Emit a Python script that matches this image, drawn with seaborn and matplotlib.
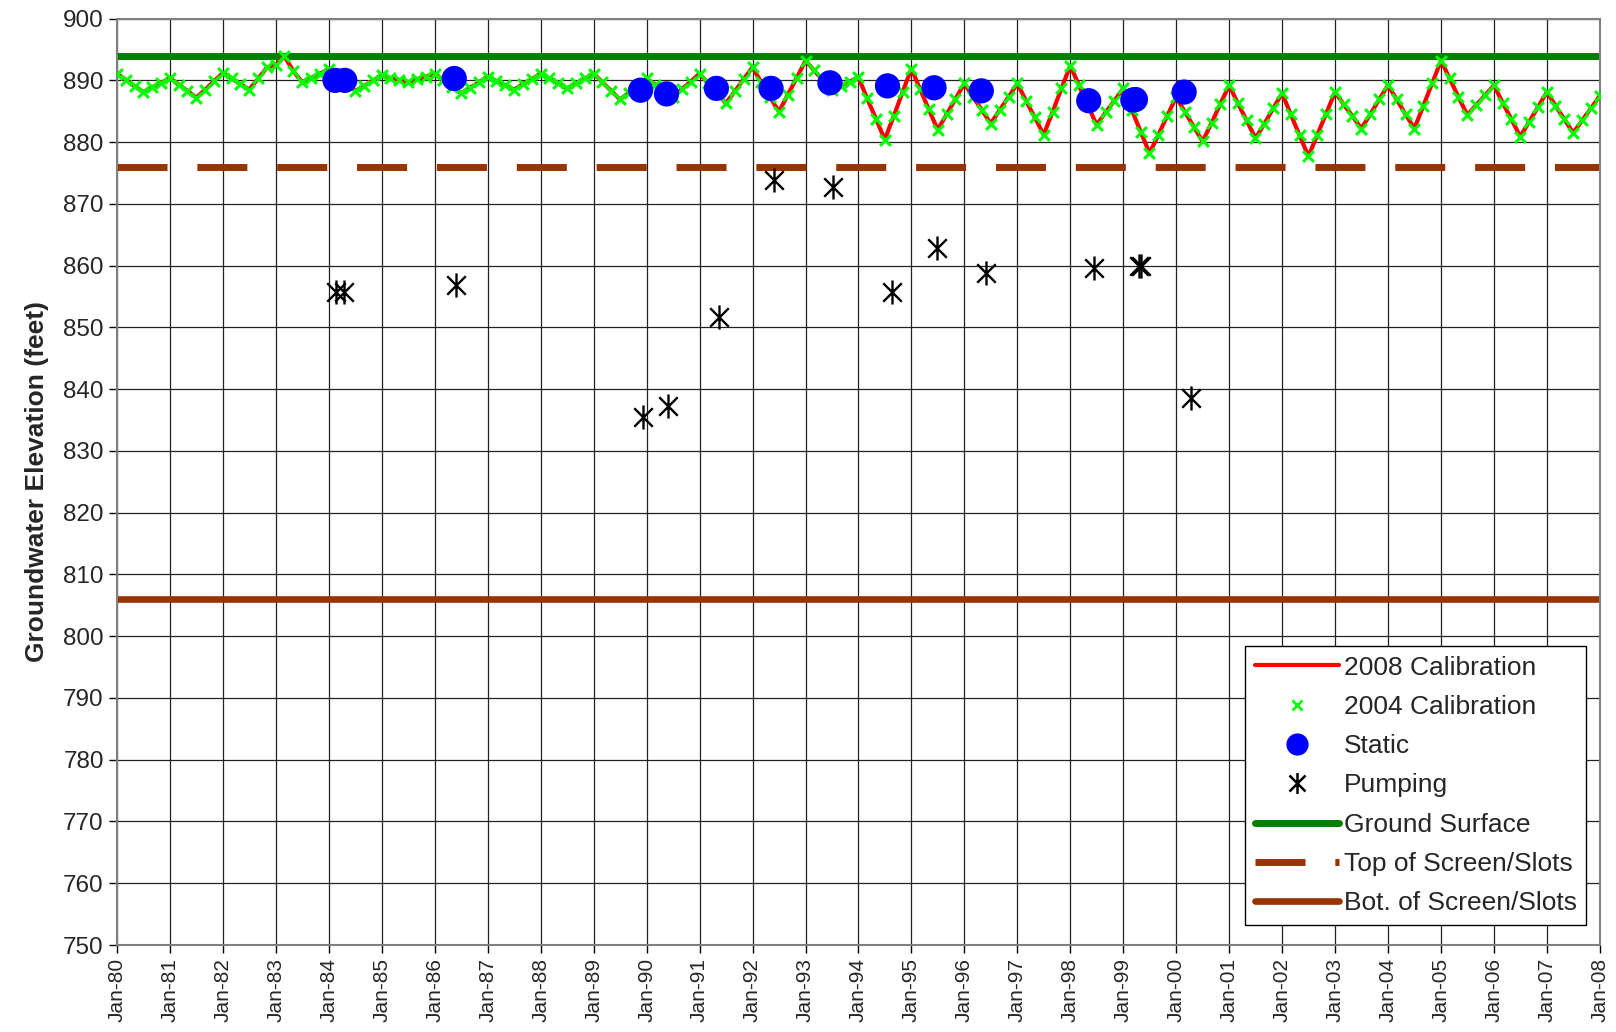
import numpy as np
import pandas as pd
import seaborn as sns
import matplotlib
matplotlib.use("Agg")
import matplotlib.pyplot as plt
import matplotlib.dates as mdates
from matplotlib.path import Path
from matplotlib.lines import Line2D

# simulated heads, one value every 2 months from Jan-80 to Jan-08
calib_2004 = [
    891.1, 890.1, 889.1, 888.1, 888.9, 889.6,  # 1980
    890.4, 889.3, 888.3, 887.2, 888.5, 889.9,  # 1981
    891.2, 890.3, 889.4, 888.5, 890.3, 892.1,  # 1982
    892.5, 893.9, 891.5, 889.7, 890.4, 891.1,  # 1983
    891.8, 890.6, 889.5, 888.3, 889.1, 890.0,  # 1984
    890.8, 890.4, 890.1, 889.7, 890.2, 890.6,  # 1985
    891.1, 890.0, 889.0, 887.9, 888.8, 889.7,  # 1986
    890.6, 889.9, 889.2, 888.5, 889.4, 890.2,  # 1987
    891.1, 890.3, 889.5, 888.7, 889.5, 890.3,  # 1988
    891.1, 889.7, 888.3, 886.9, 888.0, 889.2,  # 1989
    890.3, 889.3, 888.3, 887.3, 888.6, 889.8,  # 1990
    891.1, 889.5, 887.9, 886.3, 888.2, 890.2,  # 1991
    892.1, 889.7, 887.3, 884.9, 887.7, 890.4,  # 1992
    893.2, 891.6, 890.0, 888.4, 889.1, 889.8,  # 1993
    890.5, 887.1, 883.8, 880.4, 884.2, 888.1,  # 1994
    891.9, 888.6, 885.3, 882.0, 884.5, 887.0,  # 1995
    889.5, 887.3, 885.2, 883.0, 885.2, 887.3,  # 1996
    889.5, 886.7, 884.0, 881.2, 884.9, 888.7,  # 1997
    892.4, 889.2, 886.0, 882.8, 884.8, 886.7,  # 1998
    888.7, 885.2, 881.7, 878.2, 881.2, 884.3,  # 1999
    887.3, 884.9, 882.5, 880.1, 883.1, 886.2,  # 2000
    889.2, 886.3, 883.5, 880.6, 883.0, 885.5,  # 2001
    887.9, 884.5, 881.1, 877.7, 881.2, 884.6,  # 2002
    888.1, 886.1, 884.2, 882.2, 884.5, 886.9,  # 2003
    889.2, 886.9, 884.5, 882.2, 885.9, 889.5,  # 2004
    893.2, 890.3, 887.3, 884.4, 886.0, 887.6,  # 2005
    889.2, 886.4, 883.7, 880.9, 883.3, 885.7,  # 2006
    888.1, 885.9, 883.7, 881.5, 883.5, 885.5,  # 2007
    887.5,                                     # 2008
]
# 2008 run lies on top of the 2004 run
calib_2008 = list(calib_2004)
calib_dates = pd.date_range("1980-01-01", "2008-01-01", freq="2MS")

static_dates = pd.to_datetime([
    "1984-02-13", "1984-04-20", "1986-05-15", "1989-11-20", "1990-05-18",
    "1991-04-27", "1992-05-08", "1993-06-18", "1994-07-20", "1995-06-06",
    "1996-04-27", "1998-05-08", "1999-03-08", "1999-03-26", "2000-02-25"])
static_vals = [890.0, 890.0, 890.3, 888.4, 887.8, 888.7, 888.7, 889.6,
               889.1, 888.8, 888.3, 886.7, 886.8, 886.9, 888.1]

pump_dates = pd.to_datetime([
    "1984-02-17", "1984-04-12", "1986-05-26", "1989-12-08", "1990-05-30",
    "1991-05-12", "1992-05-30", "1993-07-08", "1994-08-18", "1995-06-28",
    "1996-05-26", "1998-06-14", "1999-04-20", "1999-05-04", "2000-04-12"])
pump_vals = [855.8, 855.8, 856.9, 835.5, 837.3, 851.7, 873.8, 872.7,
             855.7, 862.9, 858.8, 859.6, 859.9, 860.0, 838.6]

ground_surface = 894
top_screen = 876
bot_screen = 806

sns.set_style("white")
plt.rcParams["font.family"] = ["Liberation Sans", "DejaVu Sans"]

# star marker: X with a vertical bar
star = Path([(-1, -1), (1, 1), (-1, 1), (1, -1), (0, -1.3), (0, 1.3)],
            [Path.MOVETO, Path.LINETO, Path.MOVETO, Path.LINETO, Path.MOVETO, Path.LINETO])

brown = "#993300"
fig, ax = plt.subplots(figsize=(16.16, 10.32), dpi=100)
fig.subplots_adjust(left=0.0724, right=0.990, top=0.982, bottom=0.0843)

ax.axhline(ground_surface, color="#008000", lw=5, zorder=2)
ax.axhline(top_screen, color=brown, lw=5, dashes=(7.2, 4.3), zorder=2)
ax.axhline(bot_screen, color=brown, lw=4.8, zorder=2)

sns.lineplot(x=calib_dates, y=calib_2008, color="red", lw=3, ax=ax, zorder=3)
sns.scatterplot(x=calib_dates, y=calib_2004, marker="x", color="#00ff00",
                s=60, linewidth=2.2, ax=ax, zorder=4)
sns.scatterplot(x=static_dates, y=static_vals, color="#0000ff", s=330,
                edgecolor="none", ax=ax, zorder=5)
sns.scatterplot(x=pump_dates, y=pump_vals, marker=star, color="black",
                edgecolor="black", s=300, linewidth=1.7, ax=ax, zorder=5)

ax.set_xlim(pd.Timestamp("1980-01-01"), pd.Timestamp("2008-01-01"))
ax.set_ylim(750, 900)
ax.set_yticks(np.arange(750, 901, 10))
ax.xaxis.set_major_locator(mdates.YearLocator())
ax.xaxis.set_major_formatter(mdates.DateFormatter("%b-%y"))
ax.grid(True, color="#222222", lw=0.9)
ax.set_axisbelow(True)
for s in ax.spines.values():
    s.set_color("#808080")
    s.set_linewidth(1.5)
ax.tick_params(axis="x", labelrotation=90, labelsize=15, direction="out",
               length=6, width=1, color="black", bottom=True)
ax.tick_params(axis="y", labelsize=17.5, direction="out", length=6,
               width=1, color="black", left=True)
ax.set_xlabel("")
ax.set_ylabel("Groundwater Elevation (feet)", fontsize=19, fontweight="bold", labelpad=10)

handles = [
    Line2D([], [], color="red", lw=3),
    Line2D([], [], ls="none", marker="x", color="#00ff00", ms=7, mew=2),
    Line2D([], [], ls="none", marker="o", color="#0000ff", ms=15),
    Line2D([], [], ls="none", marker=star, color="black", ms=15, mew=1.8),
    Line2D([], [], color="#008000", lw=5),
    Line2D([], [], color=brown, lw=5, dashes=(7.2, 4.3)),
    Line2D([], [], color=brown, lw=4.8),
]
labels = ["2008 Calibration", "2004 Calibration", "Static", "Pumping",
          "Ground Surface", "Top of Screen/Slots", "Bot. of Screen/Slots"]
leg = ax.legend(handles, labels, loc="lower right", bbox_to_anchor=(0.991, 0.022),
                borderaxespad=0, fontsize=19, handlelength=3.2, handletextpad=0.2,
                labelspacing=0.58, fancybox=False, framealpha=1, borderpad=0.35)
leg.get_frame().set_edgecolor("black")
leg.get_frame().set_linewidth(1)

fig.savefig("out.png", dpi=100)
